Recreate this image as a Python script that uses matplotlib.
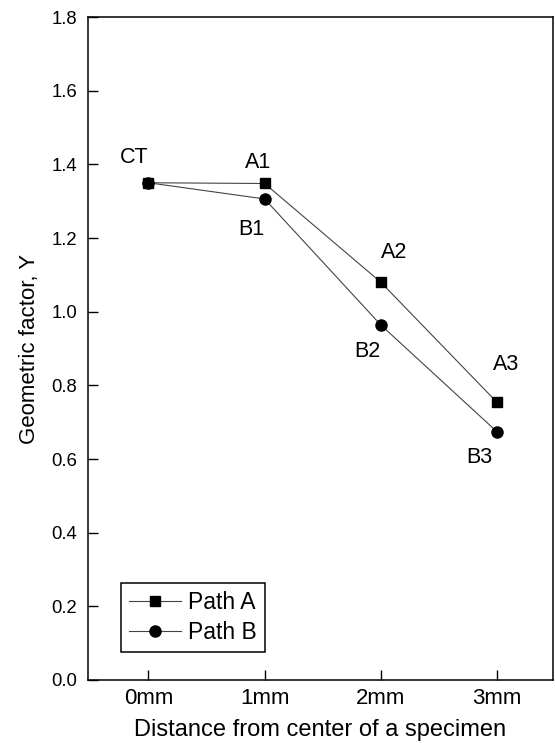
import matplotlib
matplotlib.use("Agg")
import matplotlib.pyplot as plt

plt.rcParams["font.family"] = ["Liberation Sans", "DejaVu Sans"]

# distance from specimen centre (mm) and geometric factor Y
dist_mm = [0, 1, 2, 3]
tick_labels = ["0mm", "1mm", "2mm", "3mm"]
path_a = [1.35, 1.348, 1.080, 0.754]
path_b = [1.35, 1.306, 0.964, 0.674]
labels_a = ["CT", "A1", "A2", "A3"]
labels_b = [None, "B1", "B2", "B3"]

# label offsets in pixels from each point
offs_a = [(-14, 25), (-7, 21), (13, 30), (9, 38)]
offs_b = [None, (-13, -31), (-13, -27), (-18, -26)]

fig = plt.figure(figsize=(5.55, 7.43), dpi=100)
ax = fig.add_axes([0.1586, 0.0848, 0.8373, 0.8923])

ax.plot(dist_mm, path_a, "-", color="#444444", lw=0.8, marker="s", ms=7,
        mfc="black", mec="black", label="Path A")
ax.plot(dist_mm, path_b, "-", color="#444444", lw=0.8, marker="o", ms=8,
        mfc="black", mec="black", label="Path B")

for x, y, t, o in zip(dist_mm, path_a, labels_a, offs_a):
    ax.annotate(t, (x, y), xytext=o, textcoords="offset pixels",
                ha="center", va="center", fontsize=15.5)
for x, y, t, o in zip(dist_mm, path_b, labels_b, offs_b):
    if t is None:
        continue
    ax.annotate(t, (x, y), xytext=o, textcoords="offset pixels",
                ha="center", va="center", fontsize=15.5)

ax.set_xlim(-0.52, 3.48)
ax.set_ylim(0.0, 1.8)
ax.set_xticks(dist_mm)
ax.set_xticklabels(tick_labels)
ax.set_yticks([i * 0.2 for i in range(10)])
ax.set_yticklabels([f"{i * 0.2:.1f}" for i in range(10)])
ax.tick_params(direction="in", length=7, width=1, pad=8, top=False, right=False)
ax.tick_params(axis="x", labelsize=16, pad=6)
ax.tick_params(axis="y", labelsize=13.3)
for s in ax.spines.values():
    s.set_linewidth(1.1)

ax.set_xlabel("Distance from center of a specimen", fontsize=17, labelpad=7)
ax.set_ylabel("Geometric factor, Y", fontsize=16, labelpad=8)

leg = ax.legend(loc="lower left", bbox_to_anchor=(0.07, 0.042), fontsize=16.5,
                handlelength=2.3, handletextpad=0.3, borderpad=0.35,
                labelspacing=0.3, borderaxespad=0.0, fancybox=False,
                framealpha=1)
leg.get_frame().set_edgecolor("black")
leg.get_frame().set_linewidth(1.1)

fig.savefig("out.png", dpi=100)
